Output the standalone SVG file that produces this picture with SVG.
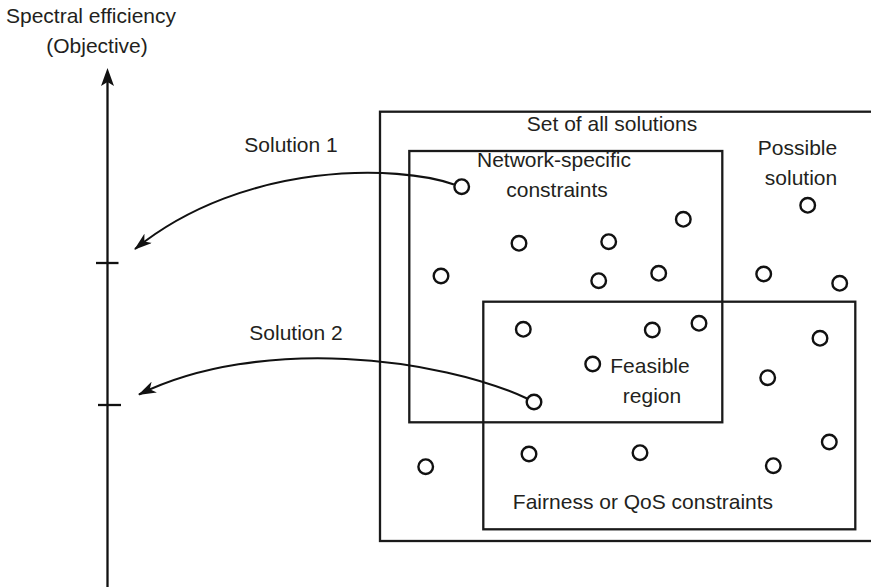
<svg xmlns="http://www.w3.org/2000/svg" width="871" height="587" viewBox="0 0 871 587">
  <style>
    text { font-family: "Liberation Sans", Arial, Helvetica, sans-serif; font-size: 21px; fill: #231f20; text-anchor: middle; }
    .box { fill: none; stroke: #1a1a1a; stroke-width: 2.3; }
    .sol { fill: #ffffff; stroke: #111111; stroke-width: 2.4; }
    .axis { stroke: #111111; stroke-width: 2.3; fill: none; }
    .link { stroke: #111111; stroke-width: 2.1; fill: none; marker-end: url(#head); }
  </style>
  <defs>
    <marker id="head" viewBox="0 0 18 12" refX="17" refY="6" markerWidth="18" markerHeight="12" markerUnits="userSpaceOnUse" orient="auto">
      <path d="M0,0 L18,6 L0,12 L5,6 Z" fill="#111111"/>
    </marker>
  </defs>

  <!-- objective axis -->
  <g id="axis">
    <line class="axis" x1="107.5" y1="587" x2="107.5" y2="80"/>
    <path d="M107.5,68 L114,86 L107.5,82 L101,86 Z" fill="#111111"/>
    <line class="axis" x1="96" y1="263" x2="118.5" y2="263"/>
    <line class="axis" x1="98" y1="405" x2="121" y2="405"/>
    <text x="91" y="23">Spectral efficiency</text>
    <text x="97" y="53">(Objective)</text>
  </g>

  <!-- solution sets -->
  <g id="all-solutions">
    <rect class="box" x="380" y="111.7" width="500" height="429.3"/>
    <text x="612" y="131">Set of all solutions</text>
  </g>
  <g id="network-constraints">
    <rect class="box" x="409.3" y="151" width="313" height="271.3"/>
    <text x="554" y="167">Network-specific</text>
    <text x="557" y="197">constraints</text>
  </g>
  <g id="fairness-constraints">
    <rect class="box" x="483.3" y="301.7" width="372" height="227.6"/>
    <text x="643" y="509">Fairness or QoS constraints</text>
  </g>
  <g id="feasible-region">
    <text x="650" y="373">Feasible</text>
    <text x="652" y="403">region</text>
  </g>
  <g id="possible-solution">
    <text x="797.5" y="155">Possible</text>
    <text x="801" y="185">solution</text>
  </g>

  <!-- individual solutions -->
  <g id="points">
    <circle class="sol" cx="461.7" cy="186.7" r="7.3"/>
    <circle class="sol" cx="683.3" cy="219.3" r="7.3"/>
    <circle class="sol" cx="807.7" cy="205.3" r="7.3"/>
    <circle class="sol" cx="519" cy="243.3" r="7.3"/>
    <circle class="sol" cx="608.7" cy="241.7" r="7.3"/>
    <circle class="sol" cx="441" cy="276" r="7.3"/>
    <circle class="sol" cx="598.7" cy="280.7" r="7.3"/>
    <circle class="sol" cx="658.7" cy="273.3" r="7.3"/>
    <circle class="sol" cx="763.7" cy="274" r="7.3"/>
    <circle class="sol" cx="839.7" cy="283.3" r="7.3"/>
    <circle class="sol" cx="523.3" cy="329.3" r="7.3"/>
    <circle class="sol" cx="652.3" cy="330" r="7.3"/>
    <circle class="sol" cx="699" cy="323.3" r="7.3"/>
    <circle class="sol" cx="820" cy="338.3" r="7.3"/>
    <circle class="sol" cx="592.7" cy="364" r="7.3"/>
    <circle class="sol" cx="767.7" cy="377.7" r="7.3"/>
    <circle class="sol" cx="534" cy="402" r="7.3"/>
    <circle class="sol" cx="529" cy="454" r="7.3"/>
    <circle class="sol" cx="640" cy="452.7" r="7.3"/>
    <circle class="sol" cx="829.3" cy="442" r="7.3"/>
    <circle class="sol" cx="773.3" cy="465.7" r="7.3"/>
    <circle class="sol" cx="425.7" cy="466.7" r="7.3"/>
  </g>

  <!-- mapping of solutions onto the objective axis -->
  <g id="connectors">
    <path class="link" d="M454,184.5 C400,165 245,160 135,249"/>
    <path class="link" d="M527,398.5 C440,358 260,335 139,394.5"/>
    <text x="291" y="152">Solution 1</text>
    <text x="296" y="340">Solution 2</text>
  </g>
</svg>
